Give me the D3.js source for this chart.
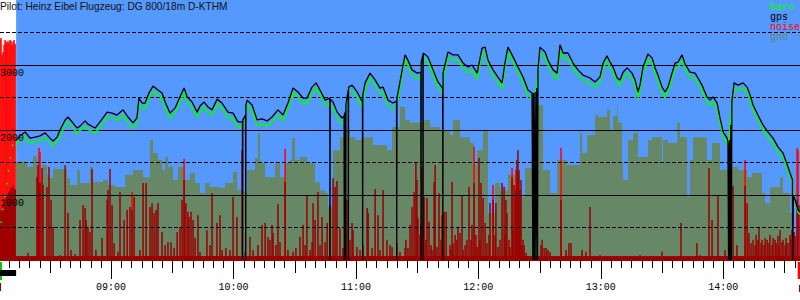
<!DOCTYPE html>
<html>
<head>
<meta charset="utf-8">
<script src="https://cdn.jsdelivr.net/npm/d3@7"></script>
<style>
body { margin: 0; background: #fff; }
svg { display: block; }
.mono { font-family: "Liberation Mono", "DejaVu Sans Mono", monospace; font-size: 10px; }
</style>
</head>
<body>
<svg></svg>
<script>
// all times are minutes after 08:00
var logStart = 5.6, takeoff = 13.5, logEnd = 397.6;

// [minute, gps alt (m), baro alt (m)] ; gps 0 = lost fix
var fixes = [
[13.5,1845,1770],[15.4,1910,1830],[17.9,1970,1890],[20.3,1875,1800],[22.8,1890,1820],[25.2,1910,1840],[27.7,1955,1880],[30.1,1875,1800],[31.6,1830,1760],[33.6,1890,1830],
[35.0,2000,1910],[37.5,2155,2080],[38.9,2200,2120],[40.9,2125,2050],[43.4,2030,1950],[44.8,2060,1990],[47.3,2140,2060],[48.7,2090,2010],[52.2,2030,1950],[54.6,2125,2040],
[58.1,2275,2200],[60.5,2260,2190],[62.9,2230,2150],[65.9,2310,2230],[68.3,2200,2120],[70.8,2110,2030],[72.7,2185,2100],[73.7,2490,2400],[75.2,2415,2340],[76.7,2415,2330],
[78.6,2570,2490],[80.6,2675,2600],[83.0,2615,2540],[85.0,2570,2490],[86.5,2430,2350],[88.9,2260,2180],[91.4,2340,2260],[93.8,2510,2430],[95.8,2645,2570],[97.3,2510,2430],
[99.7,2430,2350],[102.2,2275,2200],[103.6,2370,2290],[105.6,2430,2350],[107.5,2355,2280],[109.5,2310,2230],[112.0,2475,2400],[114.4,2415,2340],[117.3,2275,2190],[119.8,2260,2180],
[122.2,2125,2040],[124.4,2125,2040],[124.5,0,2050],[124.6,2155,2070],[125.9,2230,2150],[126.0,0,2160],[126.1,2385,2300],[126.7,2460,2380],[129.1,2385,2300],[131.6,2155,2070],
[134.0,2170,2090],[136.5,2140,2060],[138.9,2200,2120],[141.8,2310,2230],[144.3,2230,2150],[146.7,2415,2330],[149.2,2645,2570],[151.6,2585,2510],[154.1,2490,2410],[156.0,2490,2410],
[158.5,2660,2580],[160.5,2725,2650],[162.4,2615,2540],[164.9,2460,2380],[167.2,2490,2410],[167.3,0,2410],[167.4,2475,2400],[168.8,2430,2350],[170.8,2275,2190],[173.2,2185,2100],
[174.2,2215,2130],[174.3,0,2140],[174.4,2245,2160],[174.9,2275,2190],[175.0,0,2200],[175.1,2385,2300],[176.2,2615,2540],[176.3,0,2560],[176.4,2660,2580],[178.1,2690,2610],
[180.6,2585,2500],[183.2,2430,2350],[183.3,0,2360],[183.4,2540,2420],[184.5,2725,2640],[186.9,2875,2800],[189.4,2770,2690],[191.8,2645,2570],[193.3,2660,2580],[195.7,2460,2380],
[198.2,2415,2330],[199.9,2445,2360],[200.0,0,2370],[200.1,2490,2400],[201.6,2740,2640],[203.1,3000,2920],[204.1,3155,3070],[205.5,3075,3000],[207.5,2925,2840],[210.0,2875,2790],
[211.8,2890,2810],[211.9,0,2820],[212.0,3045,2900],[212.8,3155,3060],[212.9,0,3080],[213.0,3185,3110],[215.3,3125,3050],[217.8,2925,2840],[220.2,2740,2660],[222.5,2645,2560],
[222.6,0,2600],[222.7,2875,2780],[225.1,3200,3120],[227.6,3155,3070],[230.0,3155,3080],[232.5,3030,2950],[234.9,2970,2880],[236.9,3000,2920],[239.4,2875,2790],[241.8,3260,3180],
[243.3,3275,3200],[244.7,3075,3000],[247.2,2925,2840],[249.6,2815,2730],[251.6,2725,2640],[253.1,3045,2960],[254.5,3275,3200],[257.0,3125,3040],[259.4,2970,2890],[261.9,2815,2730],
[264.3,2615,2530],[266.3,2570,2490],[266.7,0,2500],[267.0,2570,2520],[267.4,0,2540],[267.8,2585,2560],[268.2,0,2600],[268.6,2645,2700],[269.0,0,2800],[269.2,2925,2850],
[270.2,3275,3200],[272.7,3200,3120],[274.1,3075,3000],[276.6,2925,2840],[278.6,2875,2790],[280.0,3310,3230],[281.5,3185,3100],[283.9,3185,3110],[286.4,3030,2950],[288.8,2925,2840],
[291.3,2845,2770],[294.7,2800,2720],[297.2,2740,2660],[299.6,2815,2740],[301.1,3030,2950],[303.0,3140,3060],[304.5,3045,2960],[306.0,2970,2890],[308.0,2800,2720],[309.4,2770,2690],
[310.9,2890,2810],[312.9,2955,2870],[315.3,2875,2790],[316.8,2770,2690],[318.2,2585,2500],[319.2,2690,2610],[320.7,2970,2890],[323.1,3170,3090],[325.1,3110,3030],[326.6,2955,2870],
[328.0,2845,2760],[330.0,2660,2580],[331.5,2585,2500],[332.9,2660,2580],[334.9,2875,2790],[336.4,3030,2950],[337.8,3045,2970],[339.8,3155,3070],[341.3,3015,2940],[343.7,2890,2810],
[346.2,2875,2790],[347.6,2800,2720],[349.6,2690,2610],[352.0,2510,2430],[353.5,2460,2380],[355.0,2510,2430],[357.0,2415,2330],[358.4,2185,2100],[359.9,1970,1890],[361.9,1875,1800],
[362.3,1800,1720],[362.6,0,1760],[363.0,1845,1900],[363.3,0,2100],[363.7,2075,2250],[364.0,0,2350],[364.2,2430,2380],[365.3,2725,2650],[367.2,2690,2610],[369.7,2725,2640],
[371.7,2660,2580],[373.1,2540,2460],[374.6,2385,2300],[377.0,2230,2150],[379.5,2075,2000],[381.9,1970,1890],[384.4,1875,1800],[386.8,1740,1660],[389.3,1645,1570],[391.7,1430,1360],
[393.9,1230,1160],[394.0,0,1130],[394.4,1000,1020],[395.2,925,890],[396.6,770,735],[397.6,740,700]
];

// baro during the launch, before the first gps fix
var launchBaro = [[6.1,570],[7.1,770],[8.1,970],[9.0,1185],[9.5,1340],[10.5,1490],[11.0,1690],[12.0,1800],[13.5,1770]];

// gnd, step values [minute, value]
var gnd = [
[13.5,1510],[18.9,1430],[21.8,1600],[23.8,1260],[26.2,1460],[28.6,1310],[30.1,1260],[31.6,1400],[38.5,1260],[39.9,1155],
[43.4,1385],[44.8,1185],[49.7,1430],[51.2,1200],[56.1,1230],[58.5,1155],[62.0,1125],[66.9,1310],[70.8,1385],[75.7,1275],
[79.1,1845],[80.6,1645],[83.0,1540],[85.0,1385],[86.5,1585],[87.9,1430],[90.4,1230],[92.8,1430],[96.3,1230],[98.7,1340],
[101.2,1185],[103.6,1030],[106.1,1185],[108.5,1125],[112.4,1110],[115.9,1185],[119.8,1355],[121.8,1075],[124.2,1045],[126.7,1385],
[130.6,1570],[132.0,1955],[133.0,1490],[135.5,1275],[140.4,1490],[142.8,1275],[145.3,1490],[147.7,1540],[148.7,1875],[150.2,1540],
[152.6,1585],[156.0,1490],[160.0,1200],[162.4,1075],[164.9,1030],[166.3,815],[168.8,1690],[172.2,1890],[174.7,2000],[177.1,1890],
[179.6,1845],[183.5,1890],[188.4,1770],[195.3,1690],[197.7,2045],[201.6,2355],[204.1,2155],[206.5,2110],[212.9,2155],[216.3,2045],
[221.2,2000],[226.1,1925],[227.6,2155],[231.0,1890],[235.9,1800],[237.9,1460],[239.4,1690],[242.3,2000],[244.7,725],[248.2,1185],
[250.6,1075],[254.5,1310],[260.4,970],[262.9,1415],[266.3,1415],[269.2,2385],[271.7,1385],[275.1,1030],[278.6,1540],[283.4,1460],
[289.8,1955],[290.8,1645],[293.3,1925],[297.2,2230],[298.6,2200],[303.0,2310],[304.5,2000],[306.0,2215],[308.0,2400],[308.4,2110],
[310.4,1490],[310.9,1230],[313.3,1845],[315.8,1955],[318.2,1585],[323.1,1845],[325.1,1890],[330.0,1490],[330.5,1845],[332.9,1800],
[337.4,2110],[338.8,1890],[342.3,970],[343.7,1540],[345.2,1890],[352.0,1540],[354.5,1800],[358.4,1385],[362.3,1385],[364.8,1430],
[367.2,1385],[371.7,1275],[374.1,1340],[379.0,1030],[380.5,875],[382.9,1125],[387.8,1275],[389.3,1030],[392.7,725],[394.2,0]
];

// noise level [minute, value]
var noise = [
[5.6,690],[6.1,770],[6.6,740],[7.1,845],[7.6,800],[8.1,925],[8.6,985],[9.0,955],[9.5,1015],[10.0,1045],[10.5,1075],[11.0,1110],[11.5,1045],[12.0,1125],[12.5,1075],[13.0,1090],
[19.3,110],[23.7,1275],[24.2,1460],[24.7,1185],[25.2,1185],[26.2,1415],[26.7,1155],[28.6,1125],[29.6,1430],[30.6,925],[31.6,510],[35.0,75],[37.5,1460],[38.9,725],[40.4,155],[42.4,90],
[44.8,615],[46.3,845],[47.3,800],[47.8,615],[48.7,510],[49.7,430],[50.7,1400],[52.6,155],[55.6,340],[58.1,925],[58.5,1075],[59.5,1400],[60.5,845],[61.5,260],[63.4,125],[64.4,1045],
[66.4,615],[67.9,770],[69.3,815],[70.3,770],[71.3,970],[74.2,155],[75.7,1185],[77.2,1185],[79.1,815],[80.1,875],[81.1,725],[82.1,770],[83.0,875],[85.0,430],[86.5,230],[87.9,275],
[89.4,275],[90.9,185],[92.4,430],[93.8,510],[94.8,925],[95.8,1230],[96.7,875],[97.7,740],[98.2,660],[99.2,740],[100.2,615],[101.2,340],[102.6,690],[103.6,125],[107.0,460],[108.5,230],
[109.5,1030],[111.9,570],[113.4,690],[114.4,155],[116.3,185],[118.3,155],[119.8,970],[121.7,660],[124.2,1690],[125.7,125],[128.1,355],[129.6,155],[132.0,230],[134.0,540],[135.5,570],[136.9,355],
[137.9,310],[138.9,540],[139.4,415],[140.8,230],[141.8,860],[142.8,275],[145.3,1200],[146.7,155],[149.2,125],[150.6,185],[152.6,355],[154.1,540],[155.1,230],[156.0,1000],[157.5,155],[158.5,275],
[159.0,875],[160.0,615],[161.4,1045],[162.4,230],[163.4,660],[164.9,275],[165.9,570],[167.3,845],[168.8,1260],[169.8,1125],[170.7,1215],[172.2,490],[173.7,185],[175.6,925],[177.1,310],[178.1,570],
[178.6,460],[180.5,200],[182.0,155],[183.5,230],[185.5,800],[186.0,725],[187.9,185],[189.4,1090],[190.8,690],[191.8,155],[193.3,1075],[195.2,310],[196.7,230],[197.7,200],[200.1,260],[201.6,125],
[204.1,185],[204.5,310],[205.5,185],[206.5,540],[207.5,815],[208.5,1045],[209.4,1490],[209.9,1230],[210.4,645],[211.4,385],[211.9,540],[212.4,1430],[213.4,970],[214.3,310],[214.8,955],[215.8,585],
[216.8,230],[217.3,155],[218.3,1200],[218.8,1460],[219.7,200],[220.7,1030],[221.7,310],[222.2,690],[223.2,740],[224.2,740],[225.1,45],[226.1,230],[226.6,155],[227.1,1200],[227.6,260],[228.6,385],
[229.5,310],[230.0,510],[231.0,415],[232.0,1000],[232.5,155],[233.5,230],[234.4,310],[235.4,1125],[236.4,310],[236.9,540],[237.9,1185],[238.8,385],[239.4,200],[240.3,1570],[240.8,310],[241.3,1185],
[242.3,955],[243.3,570],[244.2,260],[245.2,385],[245.7,875],[247.2,925],[248.2,385],[248.6,875],[249.6,200],[250.6,310],[251.6,1185],[252.6,1125],[253.1,385],[253.5,925],[254.0,725],[255.0,310],
[255.5,200],[256.5,1275],[257.0,460],[257.5,1155],[258.4,1075],[258.9,1540],[259.4,1690],[259.9,1385],[260.4,1075],[260.9,1230],[261.4,230],[261.9,310],[262.4,230],[263.4,110],
[270.7,230],[271.2,310],[272.2,185],[273.2,185],[274.1,155],[275.1,125],[280.5,925],[283.0,155],[284.4,260],[285.4,260],[290.8,155],[292.7,125],[294.7,815],[299.6,75],[308.4,60],[319.2,75],
[330.0,125],[339.3,570],[347.1,260],[348.6,75],[353.0,1415],[354.5,615],[357.4,985],[360.9,155],[364.8,1140],[366.7,230],[370.7,1140],[371.7,875],[372.6,415],[373.6,260],[374.6,310],[375.6,230],
[376.1,385],[377.0,310],[377.5,510],[378.5,260],[379.0,310],[380.0,230],[380.5,340],[381.5,310],[382.4,260],[382.9,385],[383.9,230],[384.4,340],[385.4,310],[385.9,260],[386.8,370],[387.3,230],
[387.8,460],[388.8,275],[389.3,310],[390.3,230],[390.8,340],[391.7,260],[392.7,385],[393.2,310],[393.7,460],[394.2,340],[394.7,430],[395.2,370],[396.2,925],[397.1,845]
];

// noise peaks shown in bright red [minute, value]
var noisePeaks = [
[5.6,3385],[6.1,3415],[6.6,3155],[7.1,3200],[7.6,3310],[8.1,3385],[8.6,3355],[9.0,3325],[9.5,3370],[10.0,3340],[10.5,3385],[11.0,3370],[11.5,3310],[12.0,3355],[12.5,3385],[13.0,3325],
[24.7,1725],[25.2,1660],[70.3,1045],[95.8,1555],[145.3,1710],[237.9,1740],[247.2,1155],[256.5,1415],[258.4,1385],[280.5,1725],[370.7,1540],[396.2,1725],[396.6,1690]
];
var noiseFloor = 60;

var solidLevels = [1000, 2000, 3000];
var dashedLevels = [500, 1500, 2500, 3500];
var hourTicks = [60, 120, 180, 240, 300, 360];
var hourLabels = ['09:00', '10:00', '11:00', '12:00', '13:00', '14:00'];
var title = 'Pilot: Heinz Eibel Flugzeug: DG 800/18m D-KTHM';
var legendNames = ['baro', 'gps', 'noise', 'gnd'];
var legendColors = ['#00ff00', '#000000', '#ff0000', '#668866'];

var W = 800, H = 300;
var svg = d3.select('svg').attr('width', W).attr('height', H);
var x = d3.scaleLinear().domain([logStart, logEnd]).range([0, W]);
var y = d3.scaleLinear().domain([0, 4000]).range([260, 0]);
var base = y(0);

svg.append('rect').attr('width', W).attr('height', H).attr('fill', '#fff');
svg.append('rect')
	.attr('x', x(takeoff)).attr('y', 0)
	.attr('width', W - x(takeoff)).attr('height', base)
	.attr('fill', '#5599ff');

// gnd
var gndArea = d3.area()
	.curve(d3.curveStepAfter)
	.x(function(d){return x(d[0])})
	.y0(base)
	.y1(function(d){return y(d[1])});
svg.append('path').datum(gnd).attr('d', gndArea).attr('fill', '#668866');

// noise bars
function drawBars(data, color){
	svg.append('g').selectAll('rect')
		.data(data)
		.enter()
		.append('rect')
			.attr('x', function(d){return x(d[0]) - 0.75})
			.attr('width', 1.5)
			.attr('y', function(d){return y(d[1])})
			.attr('height', function(d){return base + 1 - y(d[1])})
			.attr('fill', color);
}
drawBars(noisePeaks, '#ff0000');
drawBars(noise, '#990000');
svg.append('rect')
	.attr('x', 0).attr('y', y(noiseFloor))
	.attr('width', W).attr('height', base + 1 - y(noiseFloor))
	.attr('fill', '#990000');

// grid
svg.selectAll('.solid').data(solidLevels).enter().append('line')
	.attr('x1', 0).attr('x2', W)
	.attr('y1', function(d){return Math.round(y(d)) + 0.5})
	.attr('y2', function(d){return Math.round(y(d)) + 0.5})
	.attr('stroke', '#000');
svg.selectAll('.dashed').data(dashedLevels).enter().append('line')
	.attr('x1', 0).attr('x2', W)
	.attr('y1', function(d){return Math.floor(y(d)) + 0.5})
	.attr('y2', function(d){return Math.floor(y(d)) + 0.5})
	.attr('stroke', '#000')
	.attr('stroke-dasharray', '4,2');

// baro and gps
svg.append('path').datum(launchBaro)
	.attr('d', d3.line().x(function(d){return x(d[0])}).y(function(d){return y(d[1])}))
	.attr('fill', 'none').attr('stroke', '#00ff00').attr('stroke-width', 1.5)
	.attr('stroke-dasharray', '1.5,11.5');
svg.append('path').datum(fixes)
	.attr('d', d3.line().x(function(d){return x(d[0])}).y(function(d){return y(d[2])}))
	.attr('fill', 'none').attr('stroke', '#00ff00').attr('stroke-width', 1.6);
svg.append('path').datum(fixes)
	.attr('d', d3.line().x(function(d){return x(d[0])}).y(function(d){return y(d[1])}))
	.attr('fill', 'none').attr('stroke', '#000').attr('stroke-width', 1.3)
	.attr('stroke-linejoin', 'bevel');

// altitude labels
svg.selectAll('.alt').data(solidLevels).enter().append('text')
	.attr('class', 'mono')
	.attr('x', 0)
	.attr('y', function(d){return y(d) + 11})
	.attr('fill', '#000')
	.text(function(d){return d});

// time ticks every 5 minutes
var ticks = d3.range(10, logEnd, 5);
svg.selectAll('.tick').data(ticks).enter().append('line')
	.attr('x1', function(d){return Math.round(x(d)) + 0.5})
	.attr('x2', function(d){return Math.round(x(d)) + 0.5})
	.attr('y1', base + 1)
	.attr('y2', function(d){return base + 1 + (d % 60 == 0 ? 18 : d % 30 == 0 ? 12 : 7)})
	.attr('stroke', '#000');
svg.selectAll('.hour').data(hourTicks).enter().append('text')
	.attr('class', 'mono')
	.attr('x', function(d){return x(d)})
	.attr('y', 290)
	.attr('text-anchor', 'middle')
	.text(function(d, i){return hourLabels[i]});

// log / takeoff / landing markers
svg.append('rect').attr('x', x(logStart)).attr('y', 262).attr('width', 2).attr('height', 18).attr('fill', '#00cc00');
svg.append('rect').attr('x', x(logStart)).attr('y', 270).attr('width', x(takeoff) - x(logStart)).attr('height', 6).attr('fill', '#000');
svg.append('rect').attr('x', x(logStart)).attr('y', 283).attr('width', 1).attr('height', 8).attr('fill', '#990000');
svg.append('rect').attr('x', x(logEnd) - 2.3).attr('y', 262).attr('width', 2.3).attr('height', 17).attr('fill', '#ff0000');
svg.append('rect').attr('x', x(logEnd) - 1).attr('y', 285).attr('width', 1).attr('height', 7).attr('fill', '#990000');

// title and legend
svg.append('text')
	.attr('x', 0).attr('y', 10)
	.attr('font-family', '"Liberation Sans", Arial, sans-serif')
	.attr('font-size', '10.2px')
	.attr('fill', '#111')
	.text(title);
svg.selectAll('.legend').data(legendNames).enter().append('text')
	.attr('class', 'mono')
	.attr('x', 770)
	.attr('y', function(d, i){return 10 + i * 10})
	.attr('fill', function(d, i){return legendColors[i]})
	.text(function(d){return d});
</script>
</body>
</html>
